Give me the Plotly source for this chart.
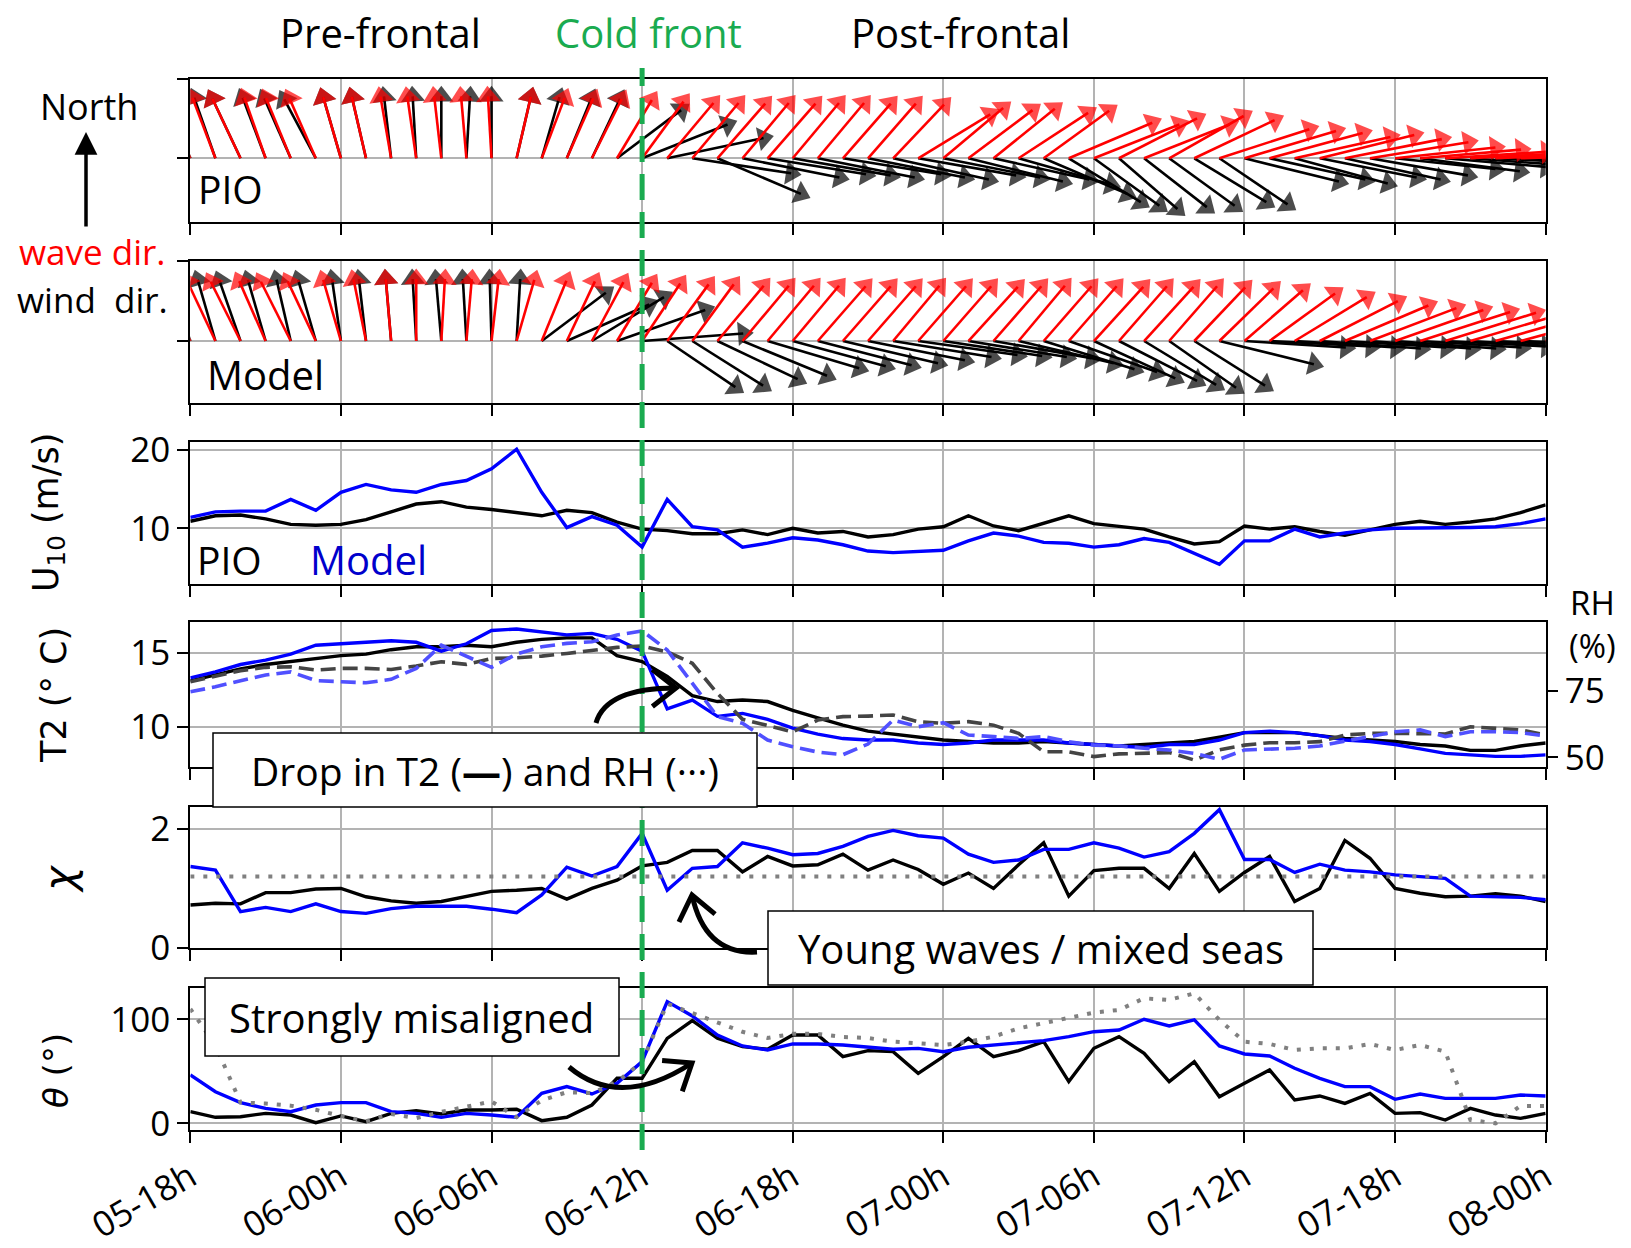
import math
import plotly.graph_objects as go

W, H = 1631, 1248

# ---------------- data ----------------
hours = list(range(55))          # hours since 05-18h
tick_hours = [0, 6, 12, 18, 24, 30, 36, 42, 48, 54]
tick_labels = ["05-18h", "06-00h", "06-06h", "06-12h", "06-18h",
               "07-00h", "07-06h", "07-12h", "07-18h", "08-00h"]
front_hour = 18
chi_threshold = 1.2

# direction the arrows point to (deg, clockwise from north)
pio_wind_dir = [-14, -12, -16, -13, -15, -18, -10, -8, -4, -2, 0, 2,
                0, 8, 10, 14, 16, 39, 57, 71, 104, 125, 108, 105,
                106, 108, 105, 108, 110, 106, 108, 112, 110, 115,
                125, 135, 140, 145, 142, 140, 135, 138,
                112, 110, 114, 108, 110, 106,
                100, 102, 98, 97, 95, 96, 95]
pio_wave_dir = [-15, -13, -16, -12, -14, -15, -10, -8, -6, -5, -4, -3,
                -2, 8, 13, 15, 17, 20, 24, 27, 27, 28, 27, 28,
                27, 27, 28, 28, 30, 45, 36, 39, 37, 43, 40,
                55, 57, 50, 57, 47, 52, 62,
                64, 66, 70, 68, 72, 75,
                80, 82, 84, 85, 86, 87, 88]
model_wind_dir = [-12, -10, -12, -10, -8, -10, -5, -4, -3, -2, -3, -2,
                  -1, 2, 39, 54, 45, 60, 83, 138, 136, 128, 124, 116,
                  114, 113, 111, 108, 105, 103, 104, 105, 106,
                  111, 117, 120, 127, 130, 135, 139, 136,
                  112, 96, 95, 96, 97, 96, 97, 97,
                  96, 95, 96, 95, 94, 95]
model_wave_dir = [-17, -16, -17, -15, -17, -16, -10, -7, -3, 0, 2, 3,
                  4, 10, 14, 16, 18, 20, 22, 24, 24, 27, 27, 27,
                  27, 28, 28, 28, 27, 28, 28, 29, 28, 27, 28, 28, 29, 28, 29, 28, 30,
                  32, 35, 40, 45, 50, 55, 58, 60,
                  62, 63, 64, 65, 66, 66]

u10_pio = [10.9, 11.6, 11.7, 11.2, 10.5, 10.4, 10.5, 11.1, 12.1, 13.1, 13.4, 12.7,
           12.4, 12.0, 11.6, 12.3, 12.0, 10.8, 9.9, 9.7, 9.3, 9.3, 9.8, 9.2,
           10.0, 9.4, 9.6, 8.9, 9.2, 9.9, 10.2, 11.6, 10.3, 9.7, 10.6, 11.6,
           10.6, 10.3, 9.9, 8.9, 8.0, 8.3, 10.3, 9.9, 10.2, 9.6, 9.1, 9.8,
           10.5, 10.9, 10.5, 10.8, 11.2, 12.0, 13.0]
u10_model = [11.4, 12.1, 12.2, 12.2, 13.7, 12.3, 14.6, 15.6, 14.9, 14.6, 15.6, 16.1,
             17.6, 20.1, 14.6, 10.1, 11.5, 10.4, 7.6, 13.7, 10.2, 9.8, 7.6, 8.1,
             8.8, 8.5, 7.9, 7.1, 6.9, 7.1, 7.2, 8.4, 9.4, 9.0, 8.2, 8.1,
             7.6, 7.9, 8.7, 8.2, 6.8, 5.4, 8.4, 8.4, 9.9, 8.9, 9.4, 9.8,
             10.0, 10.0, 10.1, 10.1, 10.2, 10.6, 11.2]

t2_pio = [13.1, 13.5, 13.9, 14.2, 14.4, 14.6, 14.8, 14.9, 15.2, 15.4, 15.4, 15.5,
          15.4, 15.7, 15.9, 16.0, 16.0, 14.8, 14.4, 13.4, 12.1, 11.7, 11.8, 11.7,
          11.1, 10.6, 10.1, 9.7, 9.5, 9.3, 9.1, 9.0, 8.9, 8.9, 9.0, 8.9,
          8.8, 8.7, 8.8, 8.9, 9.0, 9.3, 9.6, 9.6, 9.6, 9.4, 9.2, 9.1,
          9.0, 8.8, 8.7, 8.4, 8.4, 8.7, 8.9]
t2_model = [13.3, 13.7, 14.2, 14.5, 14.9, 15.5, 15.6, 15.7, 15.8, 15.7, 15.1, 15.6,
            16.5, 16.6, 16.4, 16.2, 16.3, 15.9, 15.1, 11.2, 11.8, 10.7, 10.9, 10.5,
            9.9, 9.5, 9.2, 9.1, 9.1, 8.9, 8.8, 8.9, 9.1, 9.1, 9.1, 8.9,
            8.8, 8.7, 8.6, 8.8, 8.8, 9.1, 9.6, 9.7, 9.6, 9.4, 9.1, 9.0,
            8.8, 8.5, 8.2, 8.1, 8.0, 8.0, 8.1]
rh_pio = [78.4, 80.3, 82.5, 83.8, 84.0, 82.8, 83.4, 83.4, 83.0, 84.3, 85.9, 84.9,
          87.1, 87.4, 88.0, 89.0, 90.3, 91.3, 91.8, 89.6, 85.3, 74.0, 64.3, 61.8,
          59.6, 64.0, 65.3, 65.5, 65.9, 63.4, 62.8, 63.4, 62.1, 59.0, 52.1, 52.1,
          50.3, 51.3, 51.5, 51.8, 49.0, 52.8, 54.6, 55.5, 55.5, 55.9, 58.4, 59.0,
          59.0, 59.0, 58.8, 61.5, 60.9, 60.3, 58.4]
rh_model = [74.6, 76.5, 78.8, 80.9, 82.1, 78.8, 78.4, 78.0, 79.3, 83.4, 92.1, 87.8,
            83.8, 88.8, 91.5, 92.8, 93.4, 95.9, 97.5, 90.3, 77.8, 65.3, 62.8, 56.5,
            54.0, 52.0, 51.0, 55.0, 64.0, 61.5, 63.0, 58.4, 57.8, 57.1, 57.8, 55.9,
            54.6, 54.3, 53.4, 52.8, 51.5, 49.3, 52.8, 53.0, 53.4, 54.3, 55.9, 57.8,
            59.6, 60.3, 57.8, 59.6, 59.6, 59.3, 58.0]

chi_pio = [0.72, 0.75, 0.74, 0.93, 0.93, 0.99, 1.00, 0.86, 0.79, 0.75, 0.78, 0.87,
           0.95, 0.97, 1.00, 0.82, 1.00, 1.14, 1.38, 1.44, 1.64, 1.64, 1.28, 1.54,
           1.38, 1.40, 1.58, 1.31, 1.48, 1.32, 1.07, 1.26, 1.00, 1.40, 1.77, 0.87,
           1.30, 1.34, 1.34, 1.00, 1.59, 0.95, 1.27, 1.54, 0.78, 1.00, 1.81, 1.51,
           1.00, 0.92, 0.86, 0.87, 0.91, 0.87, 0.78]
chi_model = [1.37, 1.31, 0.61, 0.68, 0.61, 0.74, 0.61, 0.58, 0.66, 0.70, 0.70, 0.70,
             0.65, 0.59, 0.89, 1.36, 1.21, 1.37, 1.93, 0.97, 1.34, 1.37, 1.77, 1.68,
             1.57, 1.59, 1.71, 1.88, 1.98, 1.89, 1.85, 1.58, 1.44, 1.48, 1.66, 1.66,
             1.77, 1.68, 1.53, 1.62, 1.93, 2.33, 1.49, 1.49, 1.27, 1.41, 1.31, 1.28,
             1.23, 1.20, 1.17, 0.87, 0.86, 0.85, 0.81]

theta_pio = [11.2, 5.8, 6.4, 9.6, 8.0, 0.6, 7.1, 1.6, 9.6, 12.2, 9.0, 12.8,
             12.8, 13.5, 2.6, 5.8, 17.6, 43.3, 43.3, 81.7, 98.7, 81.7, 73.7, 71.2,
             84.9, 84.9, 64.1, 69.9, 68.9, 48.1, 64.1, 81.7, 64.1, 69.9, 78.5, 40.1,
             72.1, 83.3, 67.3, 40.1, 59.3, 25.6, 38.5, 51.3, 22.4, 26.3, 19.2, 28.8,
             9.6, 10.3, 3.2, 14.4, 8.0, 4.8, 9.6]
theta_model = [46.5, 30.4, 19.9, 14.4, 11.2, 17.6, 19.9, 19.9, 11.2, 9.6, 5.8, 9.6,
               8.0, 5.8, 28.8, 35.3, 28.2, 38.5, 59.3, 117.0, 103.2, 84.9, 74.4, 70.5,
               76.3, 76.3, 75.3, 73.1, 71.2, 72.1, 68.9, 73.1, 75.3, 77.6, 79.5, 83.3,
               88.1, 89.7, 100.0, 93.6, 99.4, 74.4, 66.7, 64.7, 52.9, 43.3, 35.3, 35.3,
               23.1, 28.2, 24.0, 24.0, 24.0, 27.2, 26.3]
theta_other = [110, 75, 20, 19, 17, 13, 7, 2, 9, 5, 11, 16,
               21, 6, 22, 30, 29, 40, 59, 115, 106, 96, 88, 82,
               86, 86, 83, 82, 78.5, 76.9, 75.3, 78.5, 83.3, 91.3, 96.2, 101,
               106.4, 109, 120.2, 118.6, 125, 99.4, 78.5, 76.3, 70.5, 72.1, 72.1, 76.3,
               70.5, 75.3, 68.9, 3.2, 0, 16.7, 16.7]

# ---------------- layout helpers ----------------
FONT = "'Open Sans', 'Noto Sans', sans-serif"
AXFONT = "DejaVu Sans, sans-serif"
BLUE = "#0000ff"
GRID = "#b3b3b3"
GREEN = "#1aab50"

X_DOM = [190.3 / W, 1545.7 / W]
PANELS = [(79.0, 221.7), (261.0, 402.7), (441.7, 584.0),
          (622.3, 766.7), (806.7, 947.7), (988.3, 1130.0)]


def pxx(p):
    return p / W


def pxy(p):
    return 1 - p / H


def xr(i):
    return "x" if i == 1 else f"x{i}"


def yr(i):
    return "y" if i == 1 else f"y{i}"


fig = go.Figure()

# arrow geometry: tail at (hour, 0), tip along direction
LX = 4.06   # hours for an eastward unit arrow
LY1 = 0.782
LY2 = 0.775


def add_quiver(i, dirs, color, ly):
    xs, ys, sz = [], [], []
    for h, d in zip(hours, dirs):
        r = math.radians(d)
        xs += [h, h + LX * math.sin(r), None]
        ys += [0, ly * math.cos(r), None]
        sz += [0, 21, 0]
    fig.add_trace(go.Scatter(
        x=xs, y=ys, mode="lines+markers", xaxis=xr(i), yaxis=yr(i),
        line=dict(color=color, width=2.6),
        marker=dict(symbol="triangle-up", size=sz, angleref="previous",
                    color=color, line=dict(width=0)),
        hoverinfo="skip", showlegend=False))


add_quiver(1, pio_wind_dir, "black", LY1)
add_quiver(1, pio_wave_dir, "#ff0000", LY1)
add_quiver(2, model_wind_dir, "black", LY2)
add_quiver(2, model_wave_dir, "#ff0000", LY2)


def line(i, y, color, width=3.4, dash=None, yaxis=None, x=None):
    fig.add_trace(go.Scatter(
        x=hours if x is None else x, y=y, mode="lines",
        xaxis=xr(i), yaxis=yaxis or yr(i),
        line=dict(color=color, width=width, dash=dash),
        hoverinfo="skip", showlegend=False))


line(3, u10_pio, "black")
line(3, u10_model, BLUE)

line(4, t2_pio, "black")
line(4, t2_model, BLUE)
line(4, rh_pio, "#444444", width=3.6, dash="15px,7px", yaxis="y7")
line(4, rh_model, "#5050ff", width=3.6, dash="15px,7px", yaxis="y7")

line(5, chi_pio, "black")
line(5, chi_model, BLUE)
line(5, [chi_threshold, chi_threshold], "#808080", width=4, dash="4px,9px",
     x=[tick_hours[0], tick_hours[-1]])

line(6, theta_pio, "black")
line(6, theta_model, BLUE)
line(6, theta_other, "#808080", width=4, dash="4px,9px")

# ---------------- axes ----------------
yranges = [[-0.80, 1.0], [-0.771, 1.0], [2.89, 21.06], [7.30, 17.05], [0, 2.38], [-6.4, 129.8]]
yticks = [[0, 0.999], [0, 0.999], [10, 20], [10, 15], [0, 2], [0, 100]]
ylabels = [False, False, True, True, True, True]

common = dict(ticks="outside", ticklen=11, tickwidth=2, tickcolor="black",
              showgrid=True, gridcolor=GRID, gridwidth=1.5,
              showline=True, linecolor="black", linewidth=2, mirror=True,
              zeroline=False, automargin=False,
              tickfont=dict(family=FONT, size=35, color="black"))

lay = {}
for i in range(1, 7):
    top, bot = PANELS[i - 1]
    xa = dict(common, domain=X_DOM, range=[-0.001, 54.001], anchor=yr(i),
              tickvals=tick_hours, ticktext=tick_labels,
              showticklabels=(i == 6), tickangle=-30)
    if i > 1:
        xa["matches"] = "x"
    ya = dict(common, domain=[pxy(bot), pxy(top)], range=yranges[i - 1],
              anchor=xr(i), tickvals=yticks[i - 1],
              showticklabels=ylabels[i - 1])
    lay["xaxis" if i == 1 else f"xaxis{i}"] = xa
    lay["yaxis" if i == 1 else f"yaxis{i}"] = ya

lay["yaxis7"] = dict(overlaying="y4", side="right", anchor="x4",
                     range=[46.5, 100.7], tickvals=[50, 75],
                     ticks="outside", ticklen=11, tickwidth=2, tickcolor="black",
                     showgrid=False, showline=False, zeroline=False, automargin=False,
                     tickfont=dict(family=FONT, size=35, color="black"))

fig.update_layout(**lay)

# ---------------- texts ----------------
ann = []


def text(x, y, s, size=37, color="black", family=FONT, angle=0, xanchor="center"):
    ann.append(dict(x=pxx(x), y=pxy(y), xref="paper", yref="paper", text=s,
                    showarrow=False, font=dict(family=family, size=size, color=color),
                    textangle=angle, xanchor=xanchor, yanchor="middle", borderpad=0))


text(380, 32, "Pre-frontal", size=40)
text(648, 32, "Cold front", size=40, color=GREEN)
text(960, 32, "Post-frontal", size=40)
text(89, 106, "North", size=36)
text(92, 252, "wave dir.", size=35, color="#ff0000")
text(92, 299, "wind&nbsp; dir.", size=35)
text(197, 188, "PIO", size=39, xanchor="left")
text(206, 375, "Model", size=40, xanchor="left")
text(196, 559, "PIO", size=39, xanchor="left")
text(309, 559, "Model", size=40, color="#0000cc", xanchor="left")
text(1592, 624, "RH<br>(%)", size=33)

text(48, 513, "U<sub>10</sub> (m/s)", size=35, family=AXFONT, angle=-90)
text(54, 695, "T2 (° C)", size=35, family=AXFONT, angle=-90)
text(59, 878, "<i>χ</i>", size=42, family=AXFONT, angle=-90)
text(56, 1071, "<i>θ</i> (°)", size=34, family=AXFONT, angle=-90)

# north arrow
ann.append(dict(x=pxx(86), y=pxy(132), xref="paper", yref="paper", text="",
                showarrow=True, ax=0, ay=96, arrowhead=2, arrowsize=1.3,
                arrowwidth=3.5, arrowcolor="black"))

shapes = []
# cold front
shapes.append(dict(type="line", xref="x", yref="paper", x0=front_hour, x1=front_hour,
                   y0=pxy(1150), y1=pxy(68), layer="above",
                   line=dict(color=GREEN, width=5, dash="26px,12px")))

# boxes with text
boxes = [((213, 733, 757, 807), "Drop in T2 (<b>—</b>) and RH (···)", 39),
         ((768, 911, 1313, 985), "Young waves / mixed seas", 40),
         ((205, 978, 619, 1056), "Strongly misaligned", 40)]
for (x0, y0, x1, y1), s, fs in boxes:
    shapes.append(dict(type="rect", xref="paper", yref="paper",
                       x0=pxx(x0), x1=pxx(x1), y0=pxy(y1), y1=pxy(y0),
                       fillcolor="white", line=dict(color="black", width=1.5),
                       layer="above"))
    text((x0 + x1) / 2, (y0 + y1) / 2, s, size=fs)


def curved_arrow(p0, c, p1):
    def P(x, y):
        return f"{pxx(x):.5f},{pxy(y):.5f}"
    path = f"M{P(*p0)} Q{P(*c)} {P(*p1)}"
    shapes.append(dict(type="path", xref="paper", yref="paper", path=path,
                       line=dict(color="black", width=5), layer="above"))
    dx, dy = p1[0] - c[0], p1[1] - c[1]
    ang = math.atan2(-dy, -dx)
    arms = []
    for s in (-1, 1):
        a = ang + s * math.radians(38)
        arms.append((p1[0] + 30 * math.cos(a), p1[1] + 30 * math.sin(a)))
    hp = f"M{P(*arms[0])} L{P(*p1)} L{P(*arms[1])}"
    shapes.append(dict(type="path", xref="paper", yref="paper", path=hp,
                       line=dict(color="black", width=5), layer="above"))


curved_arrow((596, 723), (606, 688), (676, 688))
curved_arrow((757, 952), (705, 955), (692, 895))
curved_arrow((569, 1067), (620, 1110), (692, 1063))

fig.update_layout(width=W, height=H, autosize=False,
                  margin=dict(l=0, r=0, t=0, b=0, pad=0),
                  paper_bgcolor="white", plot_bgcolor="white",
                  showlegend=False, annotations=ann, shapes=shapes)

fig.write_html("out.html", config={"displayModeBar": False},
               post_script="document.body.style.margin='0';document.body.style.overflow='hidden';")
